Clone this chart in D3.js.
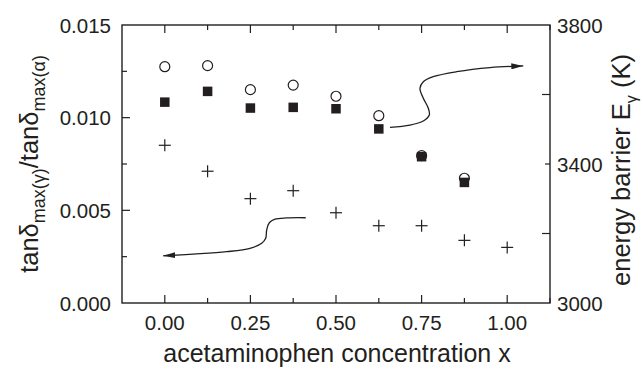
<!DOCTYPE html>
<html>
<head>
<meta charset="utf-8">
<script src="https://cdn.jsdelivr.net/npm/d3@7"></script>
<style>
  body { margin: 0; background: #fff; }
  svg text { font-family: "Liberation Sans", Arial, sans-serif; fill: #231f20; }
</style>
</head>
<body>
<svg id="chart" width="643" height="369"></svg>
<script>
// acetaminophen concentration x
var conc = [0, 0.125, 0.25, 0.375, 0.5, 0.625, 0.75, 0.875, 1.0];
// tan delta ratio (left axis), crosses
var tanRatio = [0.00851, 0.00711, 0.00563, 0.00606, 0.00487, 0.00417, 0.00417, 0.00338, 0.00300];
// energy barrier (right axis), open circles and filled squares
var energyOpen = [3680, 3683, 3614, 3627, 3595, 3539, 3424, 3359];
var energyFilled = [3578, 3609, 3561, 3563, 3559, 3501, 3421, 3347];

var xTicks = [0, 0.25, 0.5, 0.75, 1.0];
var yLeftTicks = [0, 0.005, 0.010, 0.015];
var yRightTicks = [3000, 3400, 3800];

// arrow annotations in data units (x, left axis value)
var arrowRight = [[0.6577, 0.00948], [0.7161, 0.00960], [0.7550, 0.00982], [0.7725, 0.01014],
  [0.7696, 0.01051], [0.7550, 0.01105], [0.7453, 0.01158], [0.7550, 0.01194],
  [0.7842, 0.01221], [0.8525, 0.01248], [0.9498, 0.01270], [1.0470, 0.01279]];
var arrowLeft = [[0.4115, 0.00460], [0.3560, 0.00459], [0.3218, 0.00452], [0.3052, 0.00433],
  [0.2976, 0.00394], [0.2947, 0.00349], [0.2830, 0.00322], [0.2488, 0.00295],
  [0.1808, 0.00277], [0.0832, 0.00264], [-0.0044, 0.00255]];

var svg = d3.select("#chart");
var pLeft = 122, pRight = 550, pTop = 25, pBottom = 303;
var ink = "#231f20";

var x = d3.scaleLinear().domain([-0.125, 1.125]).range([pLeft, pRight]);
var yL = d3.scaleLinear().domain([0, 0.015]).range([pBottom, pTop]);
var yR = d3.scaleLinear().domain([3000, 3800]).range([pBottom, pTop]);

// frame
svg.append("rect")
    .attr("x", pLeft).attr("y", pTop)
    .attr("width", pRight - pLeft).attr("height", pBottom - pTop)
    .attr("fill", "none").attr("stroke", ink).attr("stroke-width", 1.4);

// ticks (inward)
var xMinor = d3.range(0, 1.126, 0.125);
xMinor.forEach(function (d) {
    var major = Math.abs(d / 0.25 - Math.round(d / 0.25)) < 1e-6;
    var len = major ? 8 : 5;
    svg.append("line").attr("x1", x(d)).attr("x2", x(d))
        .attr("y1", pBottom).attr("y2", pBottom - len)
        .attr("stroke", ink).attr("stroke-width", 1.2);
    svg.append("line").attr("x1", x(d)).attr("x2", x(d))
        .attr("y1", pTop).attr("y2", pTop + len)
        .attr("stroke", ink).attr("stroke-width", 1.2);
});
[0.0025, 0.005, 0.0075, 0.010, 0.0125].forEach(function (d) {
    var major = Math.abs(d / 0.005 - Math.round(d / 0.005)) < 1e-6;
    svg.append("line").attr("x1", pLeft).attr("x2", pLeft + (major ? 8 : 5))
        .attr("y1", yL(d)).attr("y2", yL(d))
        .attr("stroke", ink).attr("stroke-width", 1.2);
});
[3200, 3400, 3600].forEach(function (d) {
    var major = d % 400 === 0;
    svg.append("line").attr("x1", pRight).attr("x2", pRight - (major ? 8 : 5))
        .attr("y1", yR(d)).attr("y2", yR(d))
        .attr("stroke", ink).attr("stroke-width", 1.2);
});

// tick labels
svg.selectAll(".xlab").data(xTicks).enter().append("text")
    .attr("x", d => x(d)).attr("y", 330)
    .attr("text-anchor", "middle").attr("font-size", 20.5)
    .text(d => d3.format(".2f")(d));
svg.selectAll(".ylab").data(yLeftTicks).enter().append("text")
    .attr("x", 111).attr("y", d => yL(d) + 7.5)
    .attr("text-anchor", "end").attr("font-size", 20.5)
    .text(d => d3.format(".3f")(d));
svg.selectAll(".rlab").data(yRightTicks).enter().append("text")
    .attr("x", 557).attr("y", d => yR(d) + 7.5)
    .attr("text-anchor", "start").attr("font-size", 20.5)
    .text(d => d);

// axis titles
svg.append("text")
    .attr("x", (pLeft + pRight) / 2 + 1).attr("y", 362)
    .attr("text-anchor", "middle").attr("font-size", 25)
    .text("acetaminophen concentration x");

var lt = svg.append("text")
    .attr("transform", "translate(38," + ((pTop + pBottom) / 2) + ") rotate(-90)")
    .attr("text-anchor", "middle").attr("font-size", 25.5);
lt.append("tspan").text("tanδ");
lt.append("tspan").attr("dy", 7).attr("font-size", 18).text("max(γ)");
lt.append("tspan").attr("dy", -7).text("/tanδ");
lt.append("tspan").attr("dy", 7).attr("font-size", 18).text("max(α)");

var rt = svg.append("text")
    .attr("transform", "translate(630," + ((pTop + pBottom) / 2 + 6) + ") rotate(-90)")
    .attr("text-anchor", "middle").attr("font-size", 25.5);
rt.append("tspan").text("energy barrier E");
rt.append("tspan").attr("dy", 7).attr("font-size", 16).text("γ");
rt.append("tspan").attr("dy", -7).text(" (K)");

// arrowhead marker
svg.append("defs").append("marker")
    .attr("id", "head").attr("viewBox", "0 0 12 6")
    .attr("refX", 12).attr("refY", 3)
    .attr("markerWidth", 12).attr("markerHeight", 6)
    .attr("markerUnits", "userSpaceOnUse")
    .attr("orient", "auto")
    .append("path").attr("d", "M0,0 L12,3 L0,6 Z").attr("fill", ink);

var arrowLine = d3.line()
    .x(d => x(d[0])).y(d => yL(d[1]))
    .curve(d3.curveCatmullRom);
[arrowRight, arrowLeft].forEach(function (pts) {
    svg.append("path").attr("d", arrowLine(pts))
        .attr("fill", "none").attr("stroke", ink).attr("stroke-width", 1.3)
        .attr("marker-end", "url(#head)");
});

// open circles (right axis)
svg.selectAll(".circ").data(energyOpen).enter().append("circle")
    .attr("cx", (d, i) => x(conc[i])).attr("cy", d => yR(d)).attr("r", 5)
    .attr("fill", "#fff").attr("stroke", ink).attr("stroke-width", 1.2);

// filled squares (right axis)
var s = 9.5;
svg.selectAll(".sq").data(energyFilled).enter().append("rect")
    .attr("x", (d, i) => x(conc[i]) - s / 2).attr("y", d => yR(d) - s / 2)
    .attr("width", s).attr("height", s).attr("fill", ink);

// crosses (left axis)
var c = 6;
var cross = svg.selectAll(".cross").data(tanRatio).enter().append("g")
    .attr("transform", (d, i) => "translate(" + x(conc[i]) + "," + yL(d) + ")");
cross.append("line").attr("x1", -c).attr("x2", c).attr("stroke", ink).attr("stroke-width", 1.2);
cross.append("line").attr("y1", -c).attr("y2", c).attr("stroke", ink).attr("stroke-width", 1.2);
</script>
</body>
</html>
